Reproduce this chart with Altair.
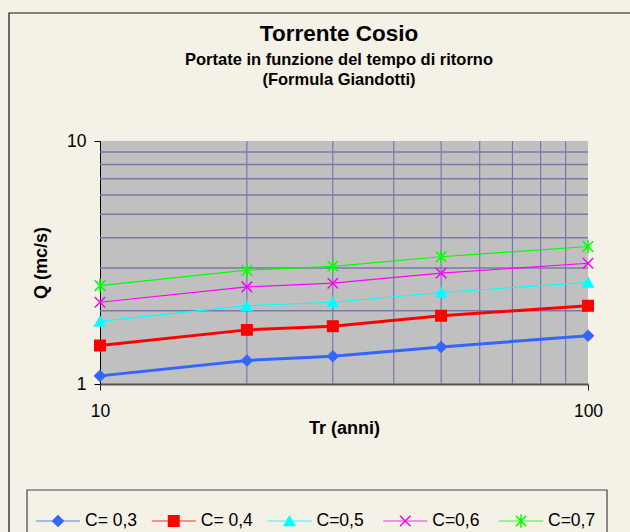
import altair as alt
import pandas as pd

# ---- data ----
tr = [10, 20, 30, 50, 100]
series = ["C= 0,3", "C= 0,4", "C=0,5", "C=0,6", "C=0,7"]
q_c03 = [1.08, 1.25, 1.30, 1.42, 1.58]
q_c04 = [1.44, 1.67, 1.73, 1.91, 2.10]
q_c05 = [1.81, 2.10, 2.17, 2.38, 2.62]
q_c06 = [2.17, 2.51, 2.60, 2.86, 3.14]
q_c07 = [2.54, 2.94, 3.05, 3.34, 3.68]
x_ticks = [10, 100]
y_ticks = [1, 10]
x_grid = [20, 30, 40, 50, 60, 70, 80, 90]
y_grid = [2, 3, 4, 5, 6, 7, 8, 9]

colors = ["#3366FF", "#FF0000", "#00FFFF", "#FF00FF", "#00FF00"]
shapes = ["diamond", "square", "triangle-up",
          "M-1,-1L1,1M-1,1L1,-1",
          "M-1,-1L1,1M-1,1L1,-1M0,-1.3L0,1.3"]
sizes = [110, 110, 60, 64, 64]
thick_series = series[:2]

rows = []
for s, vals in zip(series, [q_c03, q_c04, q_c05, q_c06, q_c07]):
    for t, q in zip(tr, vals):
        rows.append({"serie": s, "Tr": t, "Q": q})
df = pd.DataFrame(rows)

FONT = "Liberation Sans"
color_scale = alt.Scale(domain=series, range=colors)
shape_scale = alt.Scale(domain=series, range=shapes)
size_scale = alt.Scale(domain=series, range=sizes)
xs = alt.Scale(type="log", domain=[10, 100])
ys = alt.Scale(type="log", domain=[1, 10])

X_AXIS = alt.Axis(
    values=x_ticks, format="d", title="Tr (anni)", grid=False, labelFlush=False,
    domainColor="#555555", domainWidth=2, tickColor="#222222", tickSize=6,
    labelPadding=12, labelFontSize=17.5, labelFont=FONT, labelColor="black",
    titleFont=FONT, titleFontSize=18, titleFontWeight="bold", titleColor="black",
    titleBaseline="alphabetic", titleY=49)
Y_AXIS = alt.Axis(
    values=y_ticks, format="d", title="Q (mc/s)", grid=False, labelFlush=False,
    domainColor="black", domainWidth=1, tickColor="black", tickSize=6,
    labelPadding=8, labelFontSize=17.5, labelFont=FONT, labelColor="black",
    titleFont=FONT, titleFontSize=18, titleFontWeight="bold", titleColor="black",
    titleBaseline="alphabetic", titleX=-54)

grid_v = alt.Chart(pd.DataFrame({"g": x_grid})).mark_rule(
    color="#6A6AAE", strokeWidth=1
).encode(x=alt.X("g:Q", scale=xs, axis=X_AXIS))

grid_h = alt.Chart(pd.DataFrame({"g": y_grid})).mark_rule(
    color="#7A7AA6", strokeWidth=1.5
).encode(y=alt.Y("g:Q", scale=ys, axis=Y_AXIS))

enc_xy = dict(
    x=alt.X("Tr:Q", scale=xs, axis=X_AXIS),
    y=alt.Y("Q:Q", scale=ys, axis=Y_AXIS),
)

lines_thin = alt.Chart(df).transform_filter(
    alt.FieldOneOfPredicate(field="serie", oneOf=series[2:])
).mark_line(strokeWidth=1.2).encode(
    color=alt.Color("serie:N", scale=color_scale, legend=None), **enc_xy)

lines_thick = alt.Chart(df).transform_filter(
    alt.FieldOneOfPredicate(field="serie", oneOf=thick_series)
).mark_line(strokeWidth=3).encode(
    color=alt.Color("serie:N", scale=color_scale, legend=None), **enc_xy)

points = alt.Chart(df).mark_point(filled=True, strokeWidth=1.5, opacity=1).encode(
    fill=alt.Fill("serie:N", scale=color_scale, legend=None),
    stroke=alt.Stroke("serie:N", scale=color_scale, legend=None),
    shape=alt.Shape("serie:N", scale=shape_scale, legend=None),
    size=alt.Size("serie:N", scale=size_scale, legend=None),
    **enc_xy,
)

main = alt.layer(grid_v, grid_h, lines_thin, lines_thick, points)

# ---- legend & frames ----
one = pd.DataFrame({"k": [0]})
frame = alt.Chart(one).mark_rect(fill="transparent", stroke="#111111", strokeWidth=1.2).encode(
    x=alt.value(-91), x2=alt.value(560), y=alt.value(-128), y2=alt.value(420))
legbox = alt.Chart(one).mark_rect(fill="transparent", stroke="#444444", strokeWidth=1.2).encode(
    x=alt.value(-73), x2=alt.value(507), y=alt.value(349), y2=alt.value(420))

leg_df = pd.DataFrame({"serie": series})
lx = alt.X("serie:N", scale=alt.Scale(type="point", domain=series, range=[-42, 421], padding=0), axis=None)
leg_line = alt.Chart(leg_df).mark_tick(orient="horizontal", size=44, thickness=1.5, opacity=0.55).encode(
    x=lx, y=alt.value(380), color=alt.Color("serie:N", scale=color_scale, legend=None))
leg_pt = alt.Chart(leg_df).mark_point(filled=True, strokeWidth=1.5, opacity=1).encode(
    x=lx, y=alt.value(380),
    fill=alt.Fill("serie:N", scale=color_scale, legend=None),
    stroke=alt.Stroke("serie:N", scale=color_scale, legend=None),
    shape=alt.Shape("serie:N", scale=shape_scale, legend=None),
    size=alt.Size("serie:N", scale=size_scale, legend=None),
)
leg_txt = alt.Chart(leg_df).mark_text(align="left", baseline="middle", dx=27, fontSize=17.5,
                                      font=FONT, color="black").encode(
    x=lx, y=alt.value(380), text="serie:N")

legend = alt.layer(frame, legbox, leg_line, leg_pt, leg_txt)

chart = alt.layer(main, legend).resolve_scale(x="independent").properties(
    width=488, height=243,
    autosize=alt.AutoSizeParams(type="none"),
    padding={"left": 100, "top": 141, "right": 42, "bottom": 148},
    background="#F4F1E7",
    title=alt.Title(
        "Torrente Cosio",
        subtitle=["Portate in funzione del tempo di ritorno", "(Formula Giandotti)"],
        font=FONT, fontSize=22.5, fontWeight="bold", color="black",
        subtitleFont=FONT, subtitleFontSize=16.5, subtitleFontWeight="bold",
        subtitleColor="black", subtitleLineHeight=20, subtitlePadding=6,
        anchor="middle", frame="group", offset=-76, dx=-5),
).configure_view(fill="#C0C0C0", stroke=None)

chart.save("out.html", embed_options={"renderer": "svg", "actions": False})
